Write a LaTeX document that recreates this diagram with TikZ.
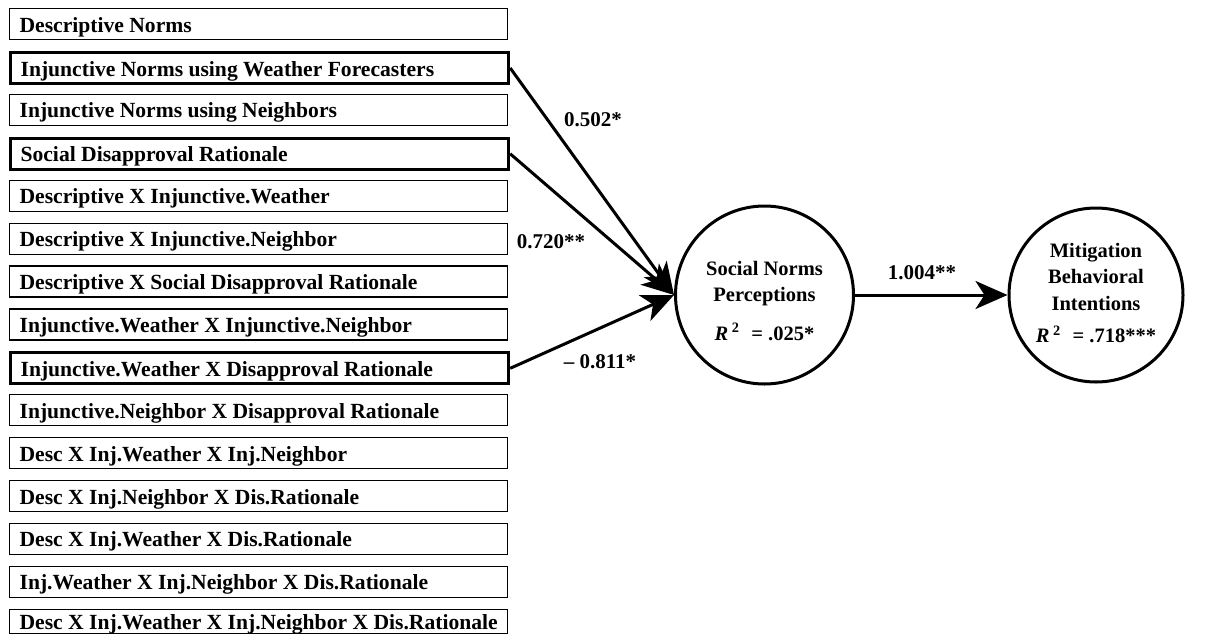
\documentclass[tikz,border=0pt]{standalone}
\usepackage{fontspec}
\setmainfont{Liberation Serif}
\usetikzlibrary{arrows.meta}
\newcommand\bxt[1]{\makebox[478pt][l]{#1}}
\begin{document}
\begin{tikzpicture}[x=1pt,y=-1pt,
 box/.style={draw, line width=1.2pt, anchor=north west, minimum height=31pt, minimum width=498pt, inner xsep=10pt, inner ysep=0pt, text height=18pt, text depth=2pt, font=\fontsize{21.6}{24}\selectfont\bfseries},
 keybox/.style={box, line width=3.2pt},
 latent/.style={circle, draw, line width=3pt, minimum size=178pt, inner sep=0pt, align=center, font=\fontsize{20.5}{26.5}\selectfont\bfseries},
 pathline/.style={line width=3pt, -{Stealth[length=32pt, width=28pt, inset=9pt]}},
 coef/.style={font=\fontsize{21}{24}\selectfont\bfseries}
]
\useasboundingbox (0,0) rectangle (1221,643);

\node[box]    (b1)  at (9,8)     {\bxt{Descriptive Norms}};
\node[keybox] (b2)  at (9,50.9)  {\bxt{Injunctive Norms using Weather Forecasters}};
\node[box]    (b3)  at (9,93.8)  {\bxt{Injunctive Norms using Neighbors}};
\node[keybox] (b4)  at (9,136.7) {\bxt{Social Disapproval Rationale}};
\node[box]    (b5)  at (9,179.6) {\bxt{Descriptive X Injunctive.Weather}};
\node[box]    (b6)  at (9,222.5) {\bxt{Descriptive X Injunctive.Neighbor}};
\node[box]    (b7)  at (9,265.4) {\bxt{Descriptive X Social Disapproval Rationale}};
\node[box]    (b8)  at (9,308.3) {\bxt{Injunctive.Weather X Injunctive.Neighbor}};
\node[keybox] (b9)  at (9,351.2) {\bxt{Injunctive.Weather X Disapproval Rationale}};
\node[box]    (b10) at (9,394.1) {\bxt{Injunctive.Neighbor X Disapproval Rationale}};
\node[box]    (b11) at (9,437)   {\bxt{Desc X Inj.Weather X Inj.Neighbor}};
\node[box]    (b12) at (9,479.9) {\bxt{Desc X Inj.Neighbor X Dis.Rationale}};
\node[box]    (b13) at (9,522.8) {\bxt{Desc X Inj.Weather X Dis.Rationale}};
\node[box]    (b14) at (9,565.7) {\bxt{Inj.Weather X Inj.Neighbor X Dis.Rationale}};
\node[box, minimum height=24pt] (b15) at (9,609) {\bxt{Desc X Inj.Weather X Inj.Neighbor X Dis.Rationale}};

\node[latent] (snp) at (764.5,295) {};
\node[latent, minimum size=174pt] (mbi) at (1096,295) {};

\node[latent, draw=none, minimum size=0pt, anchor=center] (snpt) at (764.5,301) {Social Norms\\Perceptions\\[12pt]{\itshape R}\,\textsuperscript{2}\,\, = .025*};
\node[latent, draw=none, minimum size=0pt, anchor=center] (mbit) at (1096,293) {Mitigation\\Behavioral\\Intentions\\[6pt]{\itshape R}\,\textsuperscript{2}\,\, = .718***};

\draw[pathline] (b2.east) -- (snp.west);
\draw[pathline] (b4.east) -- (snp.west);
\draw[pathline] (b9.east) -- (snp.west);
\draw[pathline] (snp.east) -- (mbi.west);

\node[coef] (c1) at (593,120) {0.502*};
\node[coef] (c2) at (551,242) {0.720**};
\node[coef] (c3) at (600,362) {-- 0.811*};
\node[coef] (c4) at (922,273) {1.004**};
\end{tikzpicture}
\end{document}
